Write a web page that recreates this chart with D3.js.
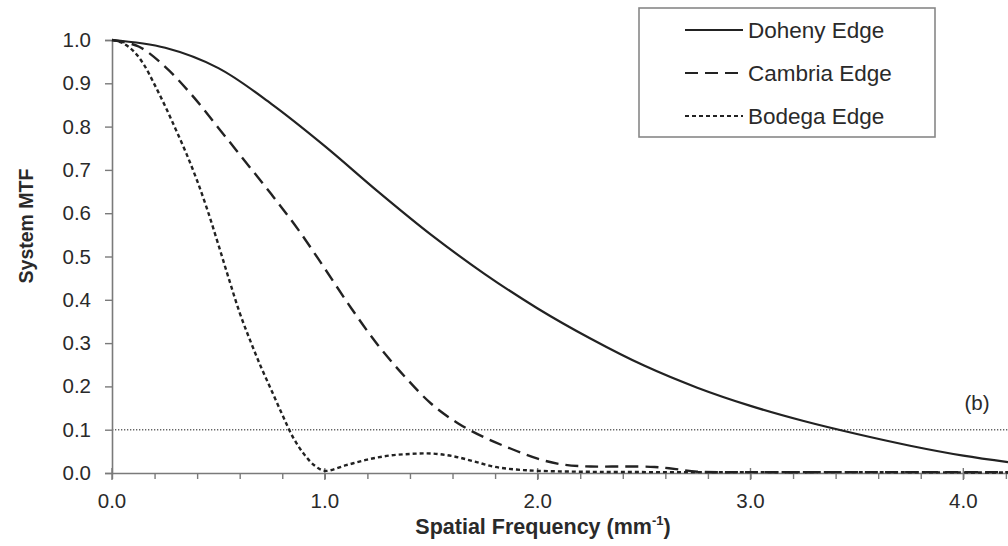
<!DOCTYPE html>
<html>
<head>
<meta charset="utf-8">
<script src="https://cdn.jsdelivr.net/npm/d3@7"></script>
<style>
  body { margin: 0; background: #fff; }
  svg { font-family: "Liberation Sans", Arial, sans-serif; }
</style>
</head>
<body>
<div id="chart"></div>
<script>
// values
var dohenyFreq = [0, 0.25, 0.5, 0.75, 1.0, 1.25, 1.5, 1.75, 2.0, 2.25, 2.5, 2.75, 3.0, 3.25, 3.5, 3.75, 4.0, 4.21];
var dohenyMTF  = [1.0, 0.982, 0.935, 0.852, 0.755, 0.65, 0.55, 0.46, 0.38, 0.31, 0.248, 0.197, 0.155, 0.12, 0.09, 0.063, 0.04, 0.025];

var cambriaFreq = [0, 0.125, 0.25, 0.375, 0.5, 0.625, 0.75, 0.875, 1.0, 1.125, 1.25, 1.375, 1.5, 1.625, 1.75, 1.875, 2.0, 2.125, 2.25, 2.4, 2.55, 2.65, 2.75, 3.0, 3.5, 4.0, 4.21];
var cambriaMTF  = [1.0, 0.985, 0.938, 0.873, 0.797, 0.72, 0.643, 0.562, 0.472, 0.38, 0.295, 0.223, 0.16, 0.115, 0.082, 0.056, 0.033, 0.019, 0.015, 0.015, 0.014, 0.009, 0.003, 0.002, 0.002, 0.002, 0.002];

var bodegaFreq = [0, 0.05, 0.1, 0.15, 0.2, 0.25, 0.3, 0.35, 0.4, 0.45, 0.5, 0.55, 0.6, 0.65, 0.7, 0.75, 0.8, 0.85, 0.9, 0.95, 1.0, 1.1, 1.2, 1.3, 1.4, 1.5, 1.6, 1.7, 1.8, 1.9, 2.0, 2.2, 2.6, 3.0, 3.5, 4.21];
var bodegaMTF  = [1.0, 0.993, 0.975, 0.943, 0.897, 0.847, 0.793, 0.737, 0.675, 0.605, 0.527, 0.447, 0.37, 0.305, 0.245, 0.19, 0.135, 0.083, 0.045, 0.018, 0.005, 0.018, 0.031, 0.04, 0.044, 0.045, 0.039, 0.027, 0.014, 0.008, 0.005, 0.003, 0.002, 0.002, 0.002, 0.001];

var seriesNames = ["Doheny Edge", "Cambria Edge", "Bodega Edge"];
var dashes = [null, "13,7", "4,3"];
var yTicks = [0, 0.1, 0.2, 0.3, 0.4, 0.5, 0.6, 0.7, 0.8, 0.9, 1.0];
var xMajor = [0, 1, 2, 3, 4];
var threshold = 0.1;

var width = 1008, height = 546;
var svg = d3.select("#chart").append("svg")
  .attr("width", width)
  .attr("height", height);

var x = d3.scaleLinear().domain([0, 4.21]).range([112, 1008]);
var y = d3.scaleLinear().domain([0, 1]).range([473, 40]);

var ink = "#2a2a2a";
var axisGrey = "#7a7a7a";

// threshold line at 0.1
svg.append("line")
  .attr("x1", x(0)).attr("x2", x(4.21))
  .attr("y1", y(threshold)).attr("y2", y(threshold))
  .attr("stroke", "#666").attr("stroke-width", 1.4)
  .attr("stroke-dasharray", "1.3,1.7");

// y axis
var yAxis = svg.append("g")
  .attr("transform", "translate(" + x(0) + ",0)")
  .call(d3.axisLeft(y).tickValues(yTicks).tickFormat(d3.format(".1f")).tickSize(7).tickPadding(14));
yAxis.select(".domain").attr("stroke", axisGrey).attr("stroke-width", 1.6);
yAxis.selectAll(".tick line").attr("stroke", axisGrey).attr("stroke-width", 1.4);
yAxis.selectAll(".tick text").attr("font-size", 20.5).attr("fill", ink)
  .attr("font-family", "Liberation Sans, Arial, sans-serif");

// x axis: minor ticks every 0.2, majors cross the line
var xAxis = svg.append("g")
  .attr("transform", "translate(0," + y(0) + ")")
  .call(d3.axisBottom(x).tickValues(d3.range(0, 4.21, 0.2)).tickFormat("").tickSize(6).tickSizeOuter(0));
xAxis.select(".domain").attr("stroke", axisGrey).attr("stroke-width", 1.6);
xAxis.selectAll(".tick line").attr("stroke", axisGrey).attr("stroke-width", 1.4);

var xMaj = svg.append("g").selectAll("g")
  .data(xMajor)
  .enter().append("g")
  .attr("transform", function(d) { return "translate(" + x(d) + "," + y(0) + ")"; });
xMaj.append("line")
  .attr("y1", -5).attr("y2", 7)
  .attr("stroke", axisGrey).attr("stroke-width", 1.4);
xMaj.append("text")
  .attr("y", 35)
  .attr("text-anchor", "middle")
  .attr("font-size", 20.5).attr("fill", ink)
  .text(function(d) { return d.toFixed(1); });

// axis titles
svg.append("text")
  .attr("transform", "translate(33,226) rotate(-90)")
  .attr("text-anchor", "middle")
  .attr("font-size", 19.5).attr("font-weight", "bold").attr("fill", ink)
  .text("System MTF");

var xt = svg.append("text")
  .attr("x", 543).attr("y", 534)
  .attr("text-anchor", "middle")
  .attr("font-size", 21.5).attr("font-weight", "bold").attr("fill", ink);
xt.append("tspan").text("Spatial Frequency (mm");
xt.append("tspan").attr("font-size", 13).attr("dy", -9).text("-1");
xt.append("tspan").attr("dy", 9).text(")");

// curves
var series = [
  { freq: dohenyFreq, mtf: dohenyMTF },
  { freq: cambriaFreq, mtf: cambriaMTF },
  { freq: bodegaFreq, mtf: bodegaMTF }
];
var line = d3.line()
  .x(function(d) { return x(d[0]); })
  .y(function(d) { return y(d[1]); })
  .curve(d3.curveCatmullRom.alpha(0.5));

svg.selectAll("path.curve")
  .data(series)
  .enter().append("path")
  .attr("class", "curve")
  .attr("fill", "none")
  .attr("stroke", "#222")
  .attr("stroke-width", function(d, i) { return i == 0 ? 2.2 : 2.4; })
  .attr("stroke-dasharray", function(d, i) { return dashes[i]; })
  .attr("d", function(d) { return line(d.freq.map(function(f, j) { return [f, d.mtf[j]]; })); });

// legend
svg.append("rect")
  .attr("x", 639).attr("y", 8).attr("width", 296).attr("height", 129)
  .attr("fill", "#fff").attr("stroke", "#888").attr("stroke-width", 1.6);

var leg = svg.selectAll("g.leg")
  .data(seriesNames)
  .enter().append("g")
  .attr("class", "leg")
  .attr("transform", function(d, i) { return "translate(685," + (30 + i * 43) + ")"; });
leg.append("line")
  .attr("x1", 0).attr("x2", 58)
  .attr("stroke", "#222").attr("stroke-width", 2)
  .attr("stroke-dasharray", function(d, i) { return dashes[i]; });
leg.append("text")
  .attr("x", 63).attr("y", 8)
  .attr("font-size", 22.5).attr("fill", ink)
  .text(function(d) { return d; });

svg.append("text")
  .attr("x", 977).attr("y", 410)
  .attr("text-anchor", "middle")
  .attr("font-size", 20.5).attr("fill", ink)
  .text("(b)");
</script>
</body>
</html>
